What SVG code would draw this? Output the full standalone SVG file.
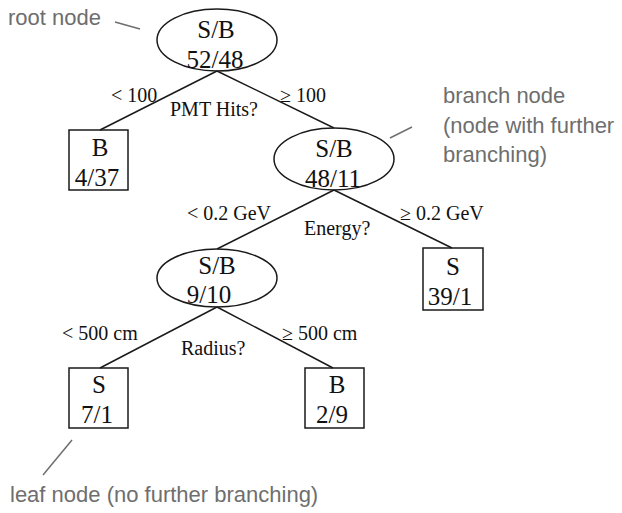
<svg xmlns="http://www.w3.org/2000/svg" width="622" height="513" viewBox="0 0 622 513">
  <style>
    .shape { fill: none; stroke: #1a1a1a; stroke-width: 1.5; }
    .edge { stroke: #1a1a1a; stroke-width: 1.5; fill: none; }
    .pointer { stroke: #6e6e6e; stroke-width: 1.5; fill: none; }
    .val { font-family: "Liberation Serif", "Times New Roman", serif; font-size: 25px; fill: #111; text-anchor: middle; }
    .lbl { font-family: "Liberation Serif", "Times New Roman", serif; font-size: 20px; fill: #111; }
    .note { font-family: "Liberation Sans", Arial, sans-serif; font-size: 22px; fill: #6e6e6e; }
  </style>
  <rect width="622" height="513" fill="#ffffff"/>

  <!-- connectors between tree nodes, with split labels -->
  <g id="connectors">
    <line class="edge" x1="217" y1="71" x2="100" y2="130"/>
    <line class="edge" x1="217" y1="71" x2="334" y2="128"/>
    <line class="edge" x1="334" y1="190" x2="217" y2="249"/>
    <line class="edge" x1="334" y1="190" x2="452" y2="248"/>
    <line class="edge" x1="217" y1="307" x2="100" y2="368"/>
    <line class="edge" x1="217" y1="307" x2="333" y2="368"/>
    <text class="lbl" x="111" y="102">&lt; 100</text>
    <text class="lbl" x="170" y="116">PMT Hits?</text>
    <text class="lbl" x="280" y="102">≥ 100</text>
    <text class="lbl" x="187" y="220">&lt; 0.2 GeV</text>
    <text class="lbl" x="304" y="235">Energy?</text>
    <text class="lbl" x="400" y="220">≥ 0.2 GeV</text>
    <text class="lbl" x="62" y="340">&lt; 500 cm</text>
    <text class="lbl" x="181" y="355">Radius?</text>
    <text class="lbl" x="282" y="340">≥ 500 cm</text>
  </g>

  <g id="root">
    <ellipse class="shape" cx="217" cy="40" rx="60" ry="31"/>
    <text class="val" x="216" y="38">S/B</text>
    <text class="val" x="215" y="68">52/48</text>
  </g>

  <g id="leaf-b-4-37">
    <rect class="shape" x="69" y="130" width="59" height="60"/>
    <text class="val" x="100" y="156">B</text>
    <text class="val" x="97" y="186">4/37</text>
  </g>

  <g id="branch-energy">
    <ellipse class="shape" cx="334" cy="159" rx="60" ry="31"/>
    <text class="val" x="334" y="157">S/B</text>
    <text class="val" x="333" y="187">48/11</text>
  </g>

  <g id="branch-radius">
    <ellipse class="shape" cx="217" cy="278" rx="60" ry="29"/>
    <text class="val" x="217" y="274">S/B</text>
    <text class="val" x="209" y="303">9/10</text>
  </g>

  <g id="leaf-s-39-1">
    <rect class="shape" x="423" y="248" width="60" height="62"/>
    <text class="val" x="453" y="275">S</text>
    <text class="val" x="450" y="305">39/1</text>
  </g>

  <g id="leaf-s-7-1">
    <rect class="shape" x="69" y="368" width="59" height="60"/>
    <text class="val" x="99" y="393">S</text>
    <text class="val" x="97" y="423">7/1</text>
  </g>

  <g id="leaf-b-2-9">
    <rect class="shape" x="305" y="368" width="59" height="60"/>
    <text class="val" x="337" y="393">B</text>
    <text class="val" x="332" y="423">2/9</text>
  </g>

  <!-- explanatory notes -->
  <g id="notes">
    <text class="note" x="8" y="25">root node</text>
    <line class="pointer" x1="115" y1="22" x2="140" y2="29"/>
    <text class="note" x="443" y="103">branch node</text>
    <text class="note" x="443" y="133">(node with further</text>
    <text class="note" x="443" y="162">branching)</text>
    <line class="pointer" x1="390" y1="138" x2="412" y2="127"/>
    <line class="pointer" x1="72" y1="440" x2="43" y2="475"/>
    <text class="note" x="10" y="502">leaf node (no further branching)</text>
  </g>
</svg>
